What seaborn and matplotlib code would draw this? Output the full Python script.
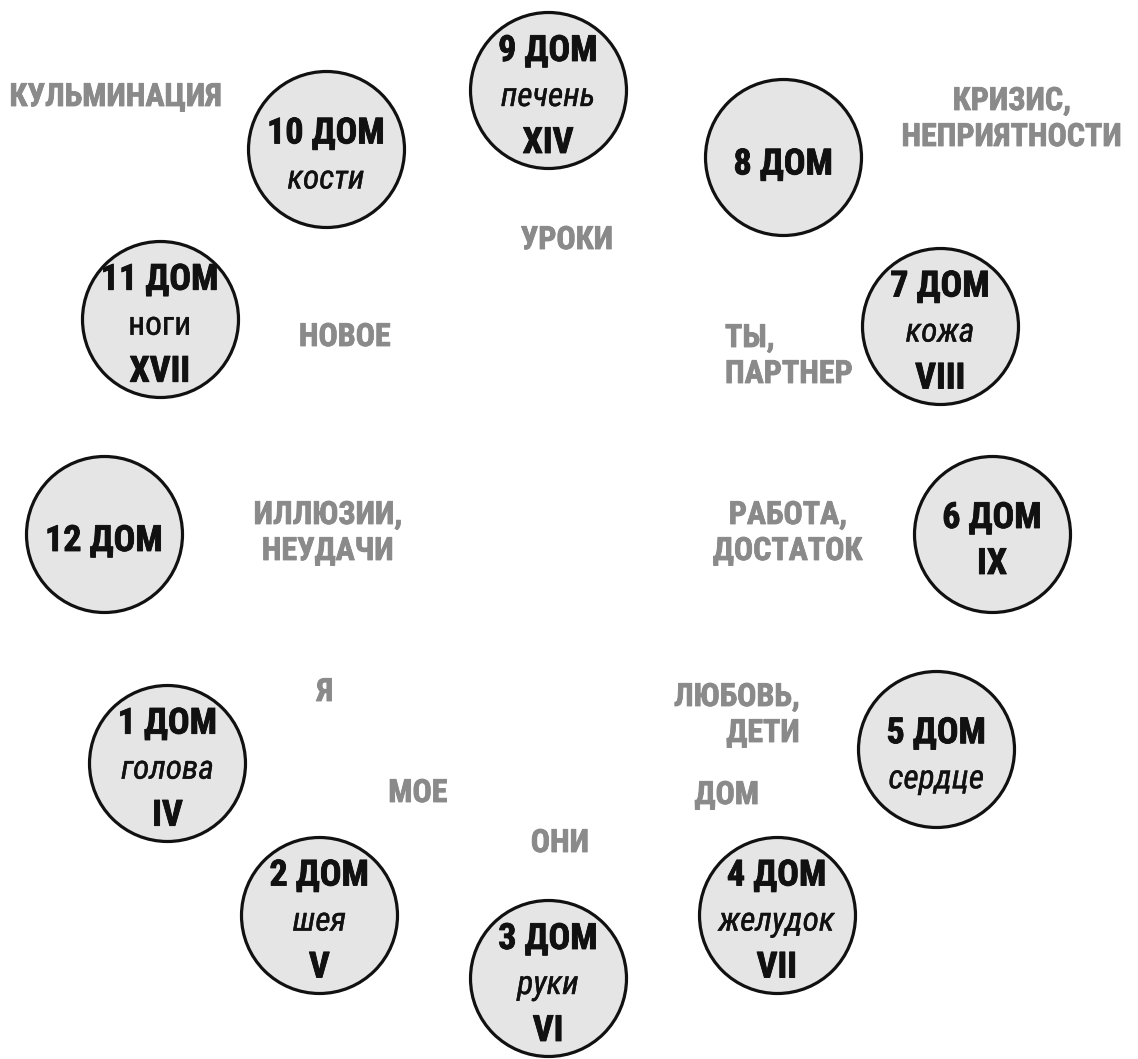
import os
import numpy as np
import pandas as pd
import matplotlib
matplotlib.use("Agg")
import matplotlib.pyplot as plt
import matplotlib.patheffects as pe
from matplotlib import font_manager
import seaborn as sns

# ---- data ----
houses = [9, 8, 7, 6, 5, 4, 3, 2, 1, 12, 11, 10]
titles = [f"{h} ДОМ" for h in houses]
body_parts = ["печень", "", "кожа", "", "сердце", "желудок", "руки", "шея", "голова", "", "ноги", "кости"]
body_italic = [True, True, True, True, True, True, True, True, True, True, False, True]
numerals = ["XIV", "", "VIII", "IX", "", "VII", "VI", "V", "IV", "", "XVII", ""]
angles_deg = [90, 58, 28, 0, -29, -59, -90, -121, -149, 180, 151, 120]

meanings = ["КУЛЬМИНАЦИЯ", "КРИЗИС,\nНЕПРИЯТНОСТИ", "УРОКИ", "НОВОЕ", "ТЫ,\nПАРТНЕР",
            "ИЛЛЮЗИИ,\nНЕУДАЧИ", "РАБОТА,\nДОСТАТОК", "Я", "ЛЮБОВЬ,\nДЕТИ", "МОЕ", "ДОМ", "ОНИ"]

# ---- layout ----
W, H = 1138, 1059
CX, CY, R = 548, 534, 444
meaning_pos = [(116, 97), (1012, 119), (567, 240), (345, 337), (725, 356),
               (328, 533), (788, 533), (325, 692), (800, 715), (418, 793), (727, 795), (560, 843)]
meaning_ha = ["center", "center", "center", "center", "left",
              "center", "center", "center", "right", "center", "center", "center"]

all_files = sorted({f.fname for f in font_manager.fontManager.ttflist})
def find_font(patterns):
    for p in patterns:
        for fn in all_files:
            if os.path.basename(fn).lower().startswith(p):
                return fn
    return None

bold_file = find_font(["robotocondensed-bold.", "liberationsansnarrow-bold.", "dejavusanscondensed-bold."])
ital_file = find_font(["robotocondensed-italic.", "liberationsansnarrow-italic.", "dejavusanscondensed-oblique."])
reg_file = find_font(["robotocondensed-regular.", "liberationsansnarrow-regular.", "dejavusanscondensed."])

sns.set_theme(style="white")
plt.rcParams["font.family"] = ["DejaVu Sans"]

def fp(kind, size):
    f = {"bold": bold_file, "italic": ital_file, "regular": reg_file}[kind]
    if f:
        return font_manager.FontProperties(fname=f, size=size)
    return font_manager.FontProperties(family="DejaVu Sans", size=size, stretch="condensed",
                                       weight="bold" if kind == "bold" else "normal",
                                       style="italic" if kind == "italic" else "normal")

fig = plt.figure(figsize=(W / 100, H / 100), dpi=100)
ax = fig.add_axes([0, 0, 1, 1])

ang = np.deg2rad(np.array(angles_deg))
df = pd.DataFrame({
    "x": CX + R * np.cos(ang),
    "y": CY - R * np.sin(ang),
    "title": titles,
})

radius_px = 78
s_pts = (2 * radius_px * 72 / 100) ** 2
sns.scatterplot(data=df, x="x", y="y", s=s_pts, color="#e5e5e5", edgecolor="#111111",
                linewidth=2.3, ax=ax, legend=False, zorder=2)

TITLE_FS = 26
SUB_FS = 24
LS = 46
heavy_k = [pe.withStroke(linewidth=0.6, foreground="#111111")]
light_k = [pe.withStroke(linewidth=0.3, foreground="#111111")]
heavy_g = [pe.withStroke(linewidth=0.6, foreground="#8a8a8a")]
for i, row in df.iterrows():
    lines = [(titles[i], fp("bold", TITLE_FS), heavy_k)]
    if body_parts[i]:
        lines.append((body_parts[i], fp("italic" if body_italic[i] else "regular", SUB_FS), light_k))
    if numerals[i]:
        lines.append((numerals[i], fp("bold", TITLE_FS), heavy_k))
    n = len(lines)
    y0 = row.y + 7 - (n - 1) * LS / 2
    for k, (txt, prop, eff) in enumerate(lines):
        ax.text(row.x, y0 + k * LS, txt, ha="center", va="center", color="#111111",
                zorder=3, fontproperties=prop, path_effects=eff)

for txt, (x, y), ha in zip(meanings, meaning_pos, meaning_ha):
    ax.text(x, y, txt, ha=ha, va="center", color="#8a8a8a", fontproperties=fp("bold", 23),
            linespacing=1.25, multialignment=ha, path_effects=heavy_g)

ax.set_xlim(0, W)
ax.set_ylim(H, 0)
ax.set_axis_off()
fig.savefig("out.png", dpi=100, facecolor="white")
